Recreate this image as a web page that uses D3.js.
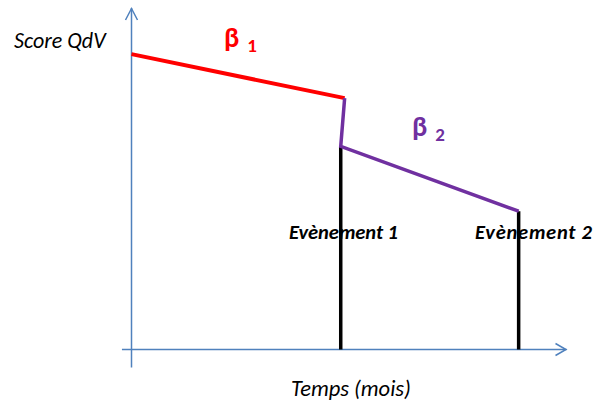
<!DOCTYPE html>
<html>
<head>
<meta charset="UTF-8"/>
<script src="https://d3js.org/d3.v7.min.js"></script>
<style>
body { margin: 0; background: #fff; }
text { font-family: Calibri, Carlito, "Open Sans", sans-serif; }
</style>
</head>
<body>
<script>
// données (temps en % de l'axe, score en % de l'axe)
const seg1Time = [0, 49];          // pente beta 1
const seg1Score = [86.5, 73.6];
const jumpTime = [49, 48.1];       // chute à l'évènement 1
const jumpScore = [73.6, 59.5];
const seg2Time = [48.1, 89];       // pente beta 2
const seg2Score = [59.5, 40.5];
const eventTime = [48.1, 89];
const eventScore = [59.5, 40.5];
const eventLabels = ["Evènement 1", "Evènement 2"];

const width = 596, height = 403;

const x = d3.scaleLinear().domain([0, 100]).range([131.5, 566.5]);
const y = d3.scaleLinear().domain([0, 100]).range([349.5, 8]);

const svg = d3.select("body").append("svg")
  .attr("width", width)
  .attr("height", height);

const line = d3.line().x(d => x(d[0])).y(d => y(d[1]));
const axisColor = "#4f81bd";

// axes avec flèches
svg.append("line")
  .attr("x1", x(-2.2)).attr("x2", x(100))
  .attr("y1", y(0)).attr("y2", y(0))
  .attr("stroke", axisColor).attr("stroke-width", 1.5);
svg.append("line")
  .attr("x1", x(0)).attr("x2", x(0))
  .attr("y1", y(-5.3)).attr("y2", y(100))
  .attr("stroke", axisColor).attr("stroke-width", 1.5);
svg.append("path")
  .attr("d", `M${x(100) - 11},${y(0) - 6}L${x(100) - 0.5},${y(0)}L${x(100) - 11},${y(0) + 6}`)
  .attr("fill", "none").attr("stroke", axisColor).attr("stroke-width", 1.5);
svg.append("path")
  .attr("d", `M${x(0) - 6},${y(100) + 12}L${x(0)},${y(100) + 0.5}L${x(0) + 6},${y(100) + 12}`)
  .attr("fill", "none").attr("stroke", axisColor).attr("stroke-width", 1.5);

// traits verticaux des évènements
svg.selectAll(".event")
  .data(eventTime)
  .join("line")
  .attr("class", "event")
  .attr("x1", d => x(d)).attr("x2", d => x(d))
  .attr("y1", (d, i) => y(eventScore[i]))
  .attr("y2", y(0))
  .attr("stroke", "#000").attr("stroke-width", 3.5);

// segments
svg.append("path")
  .attr("d", line(d3.zip(seg1Time, seg1Score)))
  .attr("fill", "none").attr("stroke", "#ff0000").attr("stroke-width", 4);
svg.append("path")
  .attr("d", line(d3.zip(jumpTime, jumpScore).concat(d3.zip(seg2Time, seg2Score).slice(1))))
  .attr("fill", "none").attr("stroke", "#7030a0").attr("stroke-width", 3.5)
  .attr("stroke-linejoin", "miter");

// étiquettes
svg.append("text")
  .attr("x", 14).attr("y", 48)
  .attr("font-size", 22).attr("font-style", "italic")
  .attr("fill", "#000")
  .text("Score QdV");

svg.append("text")
  .attr("x", 351).attr("y", 396)
  .attr("text-anchor", "middle")
  .attr("font-size", 22.5).attr("font-style", "italic")
  .attr("fill", "#000")
  .text("Temps (mois)");

svg.selectAll(".evlabel")
  .data(eventLabels)
  .join("text")
  .attr("class", "evlabel")
  .attr("x", (d, i) => i === 0 ? 289 : 475)
  .attr("y", 239)
  .attr("font-size", 20.5).attr("font-weight", "bold").attr("font-style", "italic")
  .attr("fill", "#000")
  .attr("textLength", (d, i) => i === 0 ? 109 : 117)
  .attr("lengthAdjust", "spacing")
  .text(d => d);

const betas = [
  {sub: "1", color: "#ff0000", x: 224, y: 47},
  {sub: "2", color: "#7030a0", x: 412, y: 136}
];
const bt = svg.selectAll(".beta")
  .data(betas)
  .join("text")
  .attr("class", "beta")
  .attr("x", d => d.x).attr("y", d => d.y)
  .attr("fill", d => d.color)
  .attr("font-weight", "bold");
bt.append("tspan").attr("font-size", 28).text("β");
bt.append("tspan").attr("font-size", 19).attr("dx", 8).attr("dy", 5).text(d => d.sub);
</script>
</body>
</html>
